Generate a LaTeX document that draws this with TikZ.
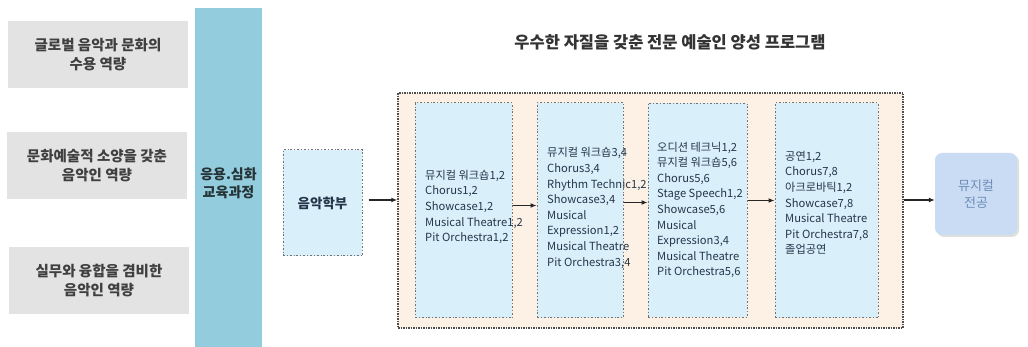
\documentclass[tikz,border=0pt]{standalone}
\usepackage{fontspec}
\setmainfont{Noto Sans CJK KR}
\usetikzlibrary{arrows.meta,shadows}

\definecolor{capgray}{HTML}{E3E3E3}
\definecolor{colblue}{HTML}{93CDDD}
\definecolor{stageblue}{HTML}{D9F0FB}
\definecolor{progfill}{HTML}{FDF1E5}
\definecolor{majorblue}{HTML}{C9DCF3}
\definecolor{majortext}{HTML}{6F8DB8}
\definecolor{inktext}{HTML}{25364A}

\tikzset{
  capbox/.style={fill=capgray, minimum width=180pt, minimum height=67pt, align=center,
    text=black!75, font=\bfseries\fontsize{14.5}{19}\selectfont},
  column/.style={fill=colblue, minimum width=67pt, minimum height=339pt},
  stagebox/.style={draw=black!55, line width=1pt, dash pattern=on 2pt off 2pt on 0.7pt off 2pt,
    fill=stageblue},
  stagetext/.style={anchor=west, align=left, text=inktext, inner sep=0pt,
    font=\fontsize{11.2}{15.6}\selectfont},
  flow/.style={-{Latex[length=6pt,width=5pt]}, line width=1.2pt, black!85}
}

\begin{document}
\begin{tikzpicture}[x=1pt,y=-1pt]
  \useasboundingbox (0,0) rectangle (1028,347);

  \node[capbox] (c1) at (98,55) {글로벌 음악과 문화의\\수용 역량};
  \node[capbox] (c2) at (97,166) {문화예술적 소양을 갖춘\\음악인 역량};
  \node[capbox] (c3) at (99,281) {실무와 융합을 겸비한\\음악인 역량};

  \node[column] (col) at (228.5,177.5) {};
  \node[align=center, text=colblue!25!black, font=\bfseries\fontsize{14}{18}\selectfont] (colt) at (228.5,183) {응용.심화\\교육과정};

  \node[font=\bfseries\fontsize{16.5}{19}\selectfont, text=black!80] (title) at (670,42) {우수한 자질을 갖춘 전문 예술인 양성 프로그램};

  \node[stagebox, minimum width=79pt, minimum height=106pt, text=inktext,
        font=\bfseries\fontsize{13.5}{16}\selectfont] (mj) at (322.5,203) {음악학부};

  \node[draw=black!70, line width=1.5pt, densely dotted, fill=progfill,
        minimum width=505pt, minimum height=235pt] (prog) at (650.5,210.5) {};

  \node[stagebox, minimum width=97pt, minimum height=215pt] (s1) at (463.5,210.5) {};
  \node[stagebox, minimum width=86pt, minimum height=215pt] (s2) at (580,210.5) {};
  \node[stagebox, minimum width=99pt, minimum height=214pt] (s3) at (697.5,210.5) {};
  \node[stagebox, minimum width=103pt, minimum height=215pt] (s4) at (826.5,210.5) {};

  \node[stagetext] (t1) at (425,207) {뮤지컬 워크숍1,2\\Chorus1,2\\Showcase1,2\\Musical Theatre1,2\\Pit Orchestra1,2};
  \node[stagetext] (t2) at (547,208) {뮤지컬 워크숍3,4\\Chorus3,4\\Rhythm Technic1,2\\Showcase3,4\\Musical\\Expression1,2\\Musical Theatre\\Pit Orchestra3,4};
  \node[stagetext] (t3) at (657,210) {오디션 테크닉1,2\\뮤지컬 워크숍5,6\\Chorus5,6\\Stage Speech1,2\\Showcase5,6\\Musical\\Expression3,4\\Musical Theatre\\Pit Orchestra5,6};
  \node[stagetext] (t4) at (785,203) {공연1,2\\Chorus7,8\\아크로바틱1,2\\Showcase7,8\\Musical Theatre\\Pit Orchestra7,8\\졸업공연};

  \node[fill=majorblue, rounded corners=7pt, minimum width=82pt, minimum height=82pt,
        drop shadow={opacity=0.25, shadow xshift=2pt, shadow yshift=-2pt},
        align=center, text=majortext, font=\fontsize{13}{17}\selectfont] (mjr) at (976,194) {뮤지컬\\전공};

  \draw[flow] (mj.east) ++(6,-3) -- ([yshift=3pt]mj.east -| prog.west);
  \draw[flow] ([yshift=5pt]s1.east) -- ([yshift=5pt]s2.west);
  \draw[flow] ([yshift=8pt]s2.east) -- ([yshift=8pt]s3.west);
  \draw[flow] ([yshift=10pt]s3.east) -- ([yshift=10pt]s4.west);
  \draw[flow] (prog.east |- mjr) ++(0,6) -- ([yshift=-6pt]mjr.west);
\end{tikzpicture}
\end{document}
